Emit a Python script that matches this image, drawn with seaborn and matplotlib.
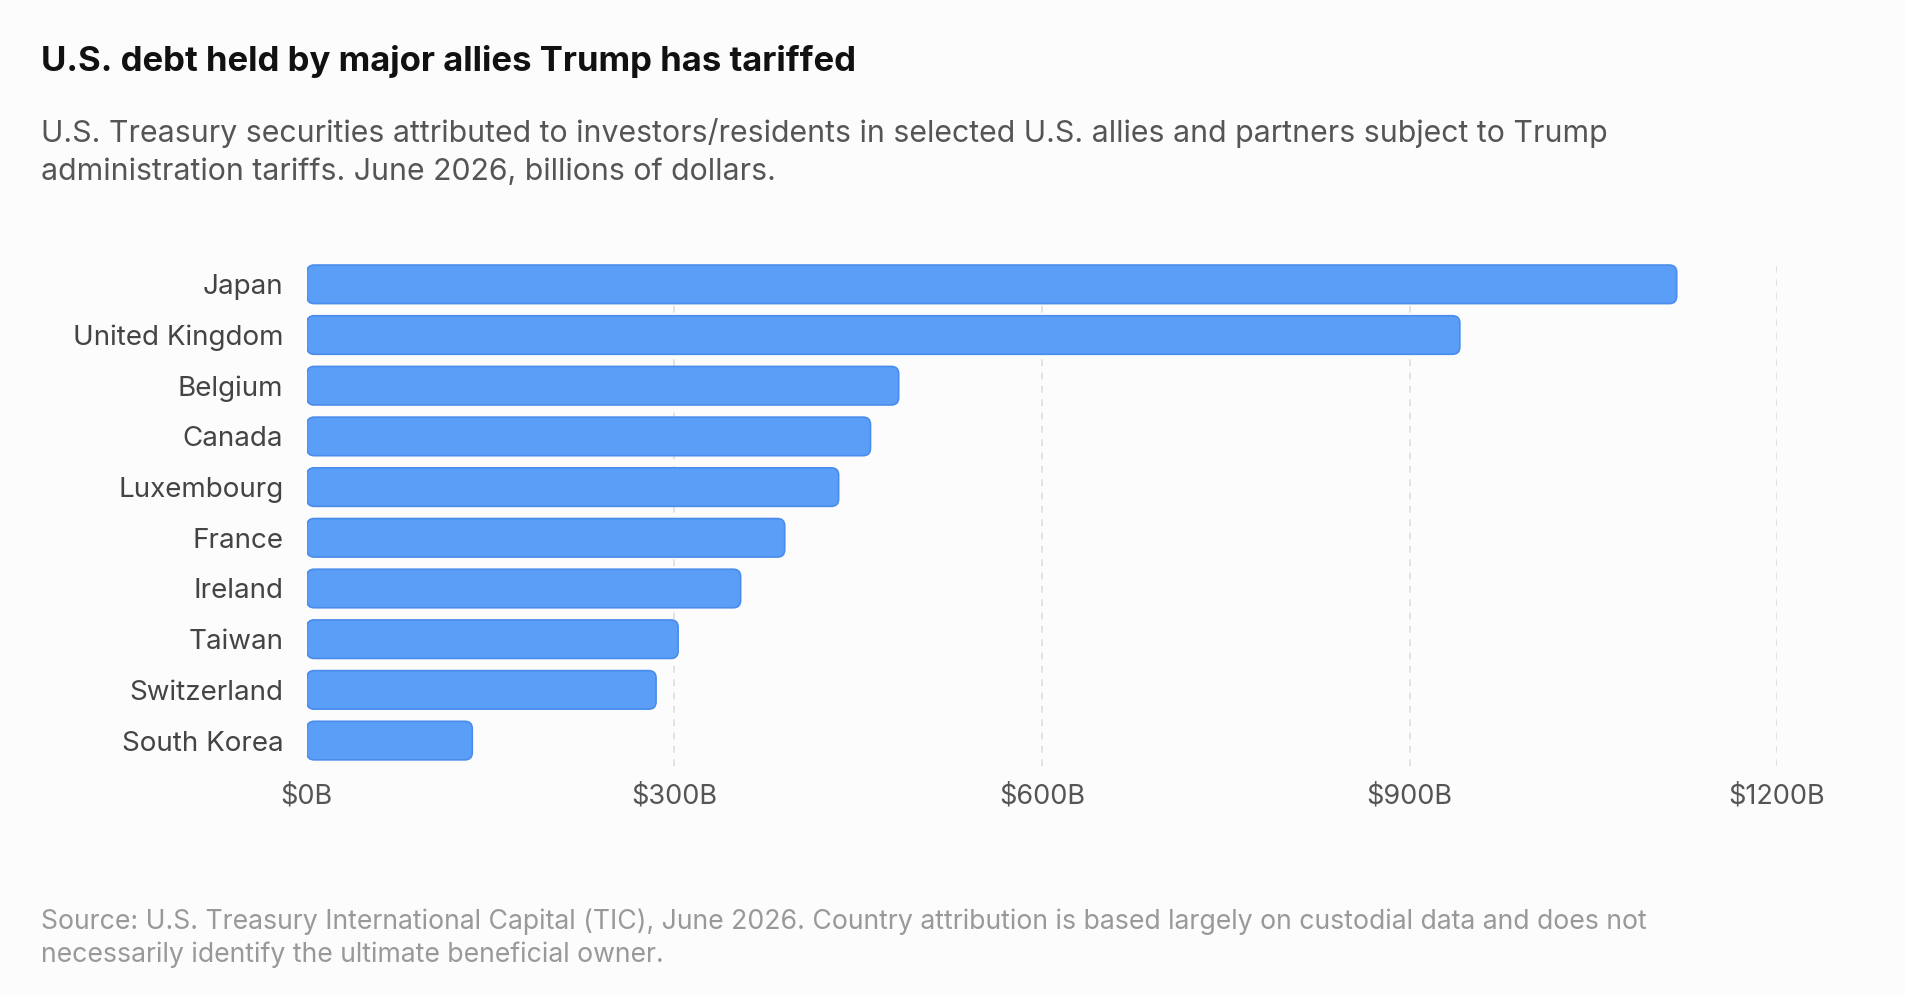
import matplotlib
matplotlib.use("Agg")
import matplotlib.pyplot as plt
from matplotlib.patches import FancyBboxPatch
import pandas as pd
import seaborn as sns

countries = ["Japan", "United Kingdom", "Belgium", "Canada", "Luxembourg",
             "France", "Ireland", "Taiwan", "Switzerland", "South Korea"]
holdings = [1118, 941, 483, 460, 434, 390, 354, 303, 285, 135]
ticks = [0, 300, 600, 900, 1200]
tick_labels = ["$0B", "$300B", "$600B", "$900B", "$1200B"]

df = pd.DataFrame({"country": countries, "value": holdings})

sns.set_theme(style="white")
plt.rcParams["font.family"] = ["Inter", "DejaVu Sans"]

bg = "#FCFCFC"
fig = plt.figure(figsize=(19.06, 9.96), dpi=100, facecolor=bg)
ax = fig.add_axes([0.161, 0.231, 0.7714, 0.509], facecolor=bg)

sns.barplot(data=df, x="value", y="country", ax=ax, color="#5B9EF8", width=0.76)

# swap plain bars for rounded ones
for p in list(ax.patches):
    x, y, w, h = p.get_x(), p.get_y(), p.get_width(), p.get_height()
    p.remove()
    ax.add_patch(FancyBboxPatch((x, y), w, h,
                                boxstyle="round,pad=0,rounding_size=6",
                                mutation_aspect=0.024,
                                facecolor="#5B9EF8", edgecolor="#4A8CEB",
                                linewidth=1.2, zorder=3))

ax.set_xlim(0, 1200)
ax.set_xticks(ticks)
ax.set_xticklabels(tick_labels)
for t in ticks[1:]:
    ax.axvline(t, color="#DDDDDD", linestyle=(0, (4, 4)), linewidth=1.2, zorder=0)
ax.set_xlabel("")
ax.set_ylabel("")
for s in ax.spines.values():
    s.set_visible(False)
ax.tick_params(axis="x", length=0, pad=13, labelsize=19.5, labelcolor="#555555")
ax.tick_params(axis="y", length=0, pad=17, labelsize=20, labelcolor="#444444")

fig.text(0.0215, 0.938, "U.S. debt held by major allies Trump has tariffed",
         fontsize=25, fontweight="bold", color="#111111", va="center")
fig.text(0.0215, 0.847,
         "U.S. Treasury securities attributed to investors/residents in selected U.S. allies and partners subject to Trump\n"
         "administration tariffs. June 2026, billions of dollars.",
         fontsize=21.8, color="#555555", va="center", linespacing=1.45)
fig.text(0.0215, 0.058,
         "Source: U.S. Treasury International Capital (TIC), June 2026. Country attribution is based largely on custodial data and does not\n"
         "necessarily identify the ultimate beneficial owner.",
         fontsize=19.2, color="#999999", va="center", linespacing=1.35)

fig.savefig("out.png", dpi=100, facecolor=bg)
